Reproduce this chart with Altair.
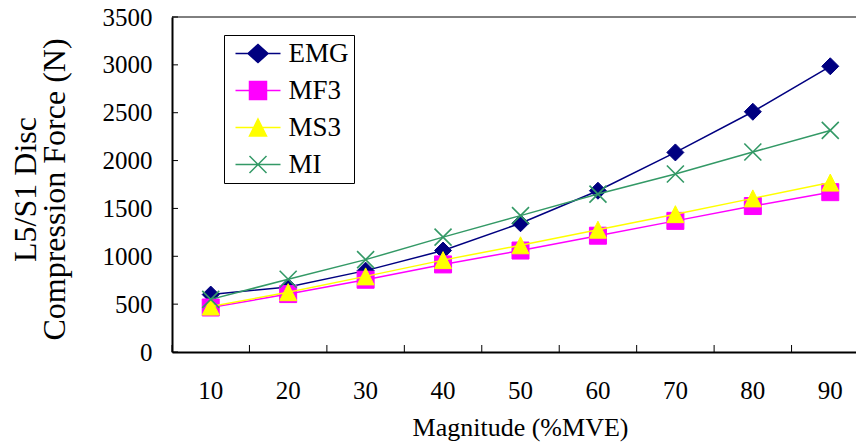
import altair as alt
import pandas as pd

# ---- data ----
magnitudes = [10, 20, 30, 40, 50, 60, 70, 80, 90]
series_names = ["EMG", "MF3", "MS3", "MI"]
emg = [600, 680, 850, 1060, 1345, 1685, 2085, 2510, 2985]
mf3 = [465, 605, 755, 915, 1060, 1215, 1370, 1525, 1670]
ms3 = [475, 625, 790, 960, 1115, 1278, 1440, 1605, 1770]
mi = [550, 760, 965, 1200, 1425, 1650, 1860, 2090, 2315]
y_tick_values = [0, 500, 1000, 1500, 2000, 2500, 3000, 3500]
x_title = "Magnitude (%MVE)"
y_title = ["L5/S1 Disc", "Compression Force (N)"]

# ---- styling ----
colors = ["#000080", "#FF00FF", "#FFFF00", "#339966"]
marker_shapes = [
    "diamond",
    "square",
    "M0,-1L1,1L-1,1Z",
    "M-1,-1L1,1M1,-1L-1,1",
]
marker_filled = [True, True, True, False]
legend_paths = [
    "M-2.25,0H2.25M-1,0L0,-0.9L1,0L0,0.9Z",
    "M-2.25,0H2.25M-0.85,-0.9H0.85V0.9H-0.85Z",
    "M-2.25,0H2.25M0,-0.85L0.85,0.85H-0.85Z",
    "M-2.25,0H2.25M-0.85,-0.85L0.85,0.85M0.85,-0.85L-0.85,0.85",
]
FONT = "Liberation Serif"
W, H = 684, 335
X_RANGE = 697  # plot area continues past the picture's right edge

values = {"EMG": emg, "MF3": mf3, "MS3": ms3, "MI": mi}
rows = []
for s in series_names:
    for m, v in zip(magnitudes, values[s]):
        rows.append({"Magnitude": m, "Force": v, "Series": s})
df = pd.DataFrame(rows)

xscale = alt.Scale(type="band", domain=magnitudes, paddingInner=0, paddingOuter=0,
                   range=[0, X_RANGE])
yscale = alt.Scale(domain=[0, 3500], nice=False, zero=True)

xaxis = alt.Axis(
    title=x_title,
    labelAngle=0,
    tickSize=0,
    labelPadding=26,
    labelFont=FONT,
    labelFontSize=25,
    labelColor="black",
    titleFont=FONT,
    titleFontSize=26,
    titleFontWeight="normal",
    titleColor="black",
    titleX=348,
    titleY=83,
    titleBaseline="alphabetic",
    domainWidth=2,
    domainColor="black",
)
yaxis = alt.Axis(
    title=y_title,
    values=y_tick_values,
    format="d",
    tickSize=0,
    labelPadding=20,
    labelFont=FONT,
    labelFontSize=25,
    labelColor="black",
    titleFont=FONT,
    titleFontSize=32,
    titleFontWeight="normal",
    titleColor="black",
    titleLineHeight=29,
    titleAngle=270,
    titleX=-162,
    titleY=172,
    titleBaseline="top",
    titleAlign="center",
    domainWidth=2,
    domainColor="black",
)

X = alt.X("Magnitude:O", scale=xscale, axis=xaxis)
Y = alt.Y("Force:Q", scale=yscale, axis=yaxis)

layers = []

# top border of the plot area
layers.append(
    alt.Chart(pd.DataFrame({"Force": [y_tick_values[-1]]}))
    .mark_rule(color="black", strokeWidth=1)
    .encode(y=Y, x=alt.value(0), x2=alt.value(X_RANGE))
)

# inside tick marks
xt_df = pd.DataFrame({"Magnitude": magnitudes})
layers.append(
    alt.Chart(xt_df)
    .mark_rule(color="black", strokeWidth=1)
    .encode(
        x=alt.X("Magnitude:O", bandPosition=0, scale=xscale, axis=xaxis),
        y=alt.value(H),
        y2=alt.value(H - 7),
    )
)
yt_df = pd.DataFrame({"Force": y_tick_values})
layers.append(
    alt.Chart(yt_df)
    .mark_rule(color="black", strokeWidth=1)
    .encode(y=Y, x=alt.value(0), x2=alt.value(6))
)

for s, c, shp, fl in zip(series_names, colors, marker_shapes, marker_filled):
    sub = df[df["Series"] == s]
    layers.append(
        alt.Chart(sub).mark_line(color=c, strokeWidth=1.5).encode(x=X, y=Y)
    )
    if fl:
        pt = alt.Chart(sub).mark_point(
            shape=shp, size=289, filled=True, fill=c, stroke=c,
            strokeWidth=1, opacity=1
        )
    else:
        pt = alt.Chart(sub).mark_point(
            shape=shp, size=289, filled=False, stroke=c,
            strokeWidth=1.6, opacity=1
        )
    layers.append(pt.encode(x=X, y=Y))

leg = alt.Legend(
    orient="none",
    legendX=52,
    legendY=18,
    title=None,
    padding=5,
    strokeColor="black",
    fillColor="white",
    symbolSize=400,
    symbolStrokeWidth=1.5,
    symbolOffset=15.5,
    labelOffset=17,
    labelFont=FONT,
    labelFontSize=27,
    labelColor="black",
    rowPadding=9,
    direction="vertical",
)
legend_df = pd.DataFrame({"Series": series_names})
layers.append(
    alt.Chart(legend_df)
    .transform_filter("false")
    .mark_point(filled=True, strokeWidth=1.5, opacity=1)
    .encode(
        shape=alt.Shape("Series:N", scale=alt.Scale(domain=series_names, range=legend_paths), legend=leg),
        fill=alt.Fill("Series:N", scale=alt.Scale(domain=series_names, range=colors), legend=leg),
        stroke=alt.Stroke("Series:N", scale=alt.Scale(domain=series_names, range=colors), legend=leg),
    )
)

chart = (
    alt.layer(*layers)
    .properties(
        width=W,
        height=H,
        padding={"left": 164, "top": 9, "right": 0, "bottom": 92},
        autosize=alt.AutoSizeParams(type="none"),
        background="white",
    )
    .configure(font=FONT)
    .configure_view(stroke=None)
    .configure_axis(
        labelFont=FONT,
        titleFont=FONT,
        labelColor="black",
        titleColor="black",
        titleFontWeight="normal",
        domainColor="black",
        grid=False,
    )
    .configure_legend(labelFont=FONT, titleFont=FONT)
)

chart.save("out.html", embed_options={"renderer": "svg", "actions": False})
